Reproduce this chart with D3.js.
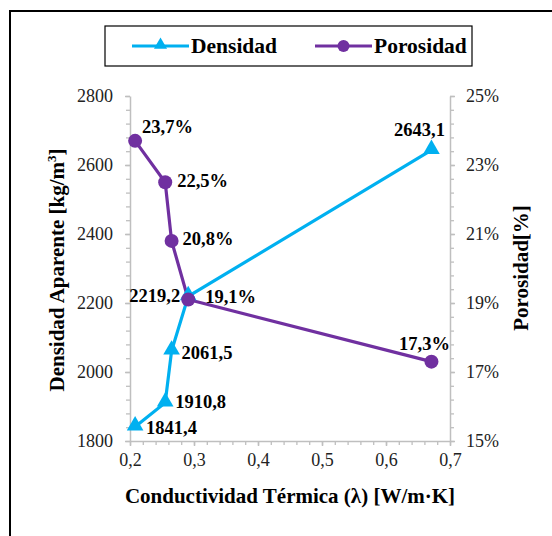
<!DOCTYPE html>
<html>
<head>
<meta charset="utf-8">
<style>
  body { margin: 0; background: #fff; }
</style>
</head>
<body>
<svg width="552" height="536" font-family="Liberation Serif"></svg>
<script src="https://d3js.org/d3.v7.min.js"></script>
<script>
// values
var conductividad = [0.208, 0.255, 0.265, 0.291, 0.671];
var densidad = [1841.4, 1910.8, 2061.5, 2219.2, 2643.1];
var porosidad = [23.7, 22.5, 20.8, 19.1, 17.3];
var densLabels = ["1841,4", "1910,8", "2061,5", "2219,2", "2643,1"];
var poroLabels = ["23,7%", "22,5%", "20,8%", "19,1%", "17,3%"];
var xTicks = [0.2, 0.3, 0.4, 0.5, 0.6, 0.7];
var yTicks = [1800, 2000, 2200, 2400, 2600, 2800];
var pTicks = [15, 17, 19, 21, 23, 25];

var FONT = "Liberation Serif";
var svg = d3.select("svg");
var blue = "#00b0f0", purple = "#7030a0", grey = "#bfbfbf";
var fmt = function(v) { return String(v).replace(".", ","); };

// outer frame (runs off the right and bottom)
svg.append("rect")
    .attr("x", 10).attr("y", 11)
    .attr("width", 560).attr("height", 560)
    .attr("fill", "none").attr("stroke", "#000").attr("stroke-width", 2);

var x = d3.scaleLinear().domain([0.2, 0.7]).range([130, 450]);
var y = d3.scaleLinear().domain([1800, 2800]).range([441, 96]);
var yp = d3.scaleLinear().domain([15, 25]).range([441, 96]);

//minor ticks first
function minor(axis, vals, tr) {
  svg.append("g").attr("transform", tr)
    .call(axis.tickValues(vals).tickSize(4).tickFormat(""))
    .call(function(g) {
      g.select(".domain").remove();
      g.selectAll("line").attr("stroke", grey).attr("stroke-width", 1.3);
    });
}
minor(d3.axisBottom(x), d3.range(0.2, 0.7001, 0.02), "translate(0,441)");
minor(d3.axisLeft(y), d3.range(1800, 2801, 40), "translate(130,0)");
minor(d3.axisRight(yp), d3.range(15, 25.01, 0.4), "translate(450,0)");

function styleAxis(g) {
  g.attr("font-family", FONT).attr("font-size", 18);
  g.select(".domain").attr("stroke", grey).attr("stroke-width", 1.5);
  g.selectAll(".tick line").attr("stroke", grey).attr("stroke-width", 1.5);
  g.selectAll("text").attr("fill", "#222");
}
svg.append("g").attr("transform", "translate(0,441)")
  .call(d3.axisBottom(x).tickValues(xTicks).tickSize(5).tickSizeOuter(0).tickPadding(7).tickFormat(fmt))
  .call(styleAxis);
svg.append("g").attr("transform", "translate(130,0)")
  .call(d3.axisLeft(y).tickValues(yTicks).tickSize(5).tickSizeOuter(0).tickPadding(12).tickFormat(d3.format("d")))
  .call(styleAxis);
svg.append("g").attr("transform", "translate(450,0)")
  .call(d3.axisRight(yp).tickValues(pTicks).tickSize(5).tickSizeOuter(0).tickPadding(11).tickFormat(function(d) { return d + "%"; }))
  .call(styleAxis);

// series
var dens = conductividad.map(function(c, i) { return [c, densidad[i]]; });
var poro = conductividad.map(function(c, i) { return [c, porosidad[i]]; });

svg.append("path").datum(dens)
  .attr("fill", "none").attr("stroke", blue).attr("stroke-width", 3.2)
  .attr("d", d3.line().x(function(d) { return x(d[0]); }).y(function(d) { return y(d[1]); }));
svg.append("path").datum(poro)
  .attr("fill", "none").attr("stroke", purple).attr("stroke-width", 3.2)
  .attr("d", d3.line().x(function(d) { return x(d[0]); }).y(function(d) { return yp(d[1]); }));

var tri = d3.symbol().type(d3.symbolTriangle).size(120);
svg.selectAll(".tri").data(dens).enter().append("path")
  .attr("d", tri).attr("fill", blue)
  .attr("transform", function(d) { return "translate(" + x(d[0]) + "," + (y(d[1]) - 1) + ")"; });
svg.selectAll(".dot").data(poro).enter().append("circle")
  .attr("cx", function(d) { return x(d[0]); })
  .attr("cy", function(d) { return yp(d[1]); })
  .attr("r", 7).attr("fill", purple);

// data labels: [dx, dy, anchor]
var densPos = [[11, 1, "start"], [10, -1, "start"], [10, 2, "start"], [-8, 0, "end"], [-12, -20, "middle"]];
var poroPos = [[7, -14, "start"], [12, -1, "start"], [11, -2, "start"], [17, -3, "start"], [-7, -18, "middle"]];
function labels(data, txt, pos, sc) {
  svg.selectAll(null).data(data).enter().append("text")
    .attr("x", function(d, i) { return x(d[0]) + pos[i][0]; })
    .attr("y", function(d, i) { return sc(d[1]) + pos[i][1] + 6; })
    .attr("text-anchor", function(d, i) { return pos[i][2]; })
    .attr("font-family", FONT).attr("font-size", 18.5).attr("font-weight", "bold")
    .text(function(d, i) { return txt[i]; });
}
labels(dens, densLabels, densPos, y);
labels(poro, poroLabels, poroPos, yp);

// axis titles
svg.append("text")
  .attr("x", 290).attr("y", 503).attr("text-anchor", "middle")
  .attr("font-family", FONT).attr("font-size", 21).attr("font-weight", "bold")
  .text("Conductividad Térmica (λ) [W/m·K]");
var lt = svg.append("text")
  .attr("transform", "translate(64,270) rotate(-90)")
  .attr("text-anchor", "middle")
  .attr("font-family", FONT).attr("font-size", 21).attr("font-weight", "bold");
lt.append("tspan").text("Densidad Aparente [kg/m");
lt.append("tspan").attr("font-size", 13).attr("dy", -8).text("3");
lt.append("tspan").attr("dy", 8).text("]");
svg.append("text")
  .attr("transform", "translate(528,268) rotate(-90)")
  .attr("text-anchor", "middle")
  .attr("font-family", FONT).attr("font-size", 21).attr("font-weight", "bold")
  .text("Porosidad[%]");

// legend
var lg = svg.append("g");
lg.append("rect").attr("x", 105).attr("y", 26).attr("width", 367).attr("height", 40)
  .attr("fill", "#fff").attr("stroke", "#000").attr("stroke-width", 1.2);
var legendItems = [
  { name: "Densidad", color: blue, x0: 132, kind: "tri" },
  { name: "Porosidad", color: purple, x0: 315, kind: "dot" }
];
legendItems.forEach(function(it) {
  lg.append("line").attr("x1", it.x0).attr("x2", it.x0 + 57)
    .attr("y1", 46).attr("y2", 46).attr("stroke", it.color).attr("stroke-width", 3.2);
  if (it.kind === "tri") {
    lg.append("path").attr("d", d3.symbol().type(d3.symbolTriangle).size(75))
      .attr("transform", "translate(" + (it.x0 + 28.5) + ",45)").attr("fill", it.color);
  } else {
    lg.append("circle").attr("cx", it.x0 + 28.5).attr("cy", 46).attr("r", 6).attr("fill", it.color);
  }
  lg.append("text").attr("x", it.x0 + 59).attr("y", 53)
    .attr("font-family", FONT).attr("font-size", 21.5).attr("font-weight", "bold")
    .text(it.name);
});
</script>
</body>
</html>
